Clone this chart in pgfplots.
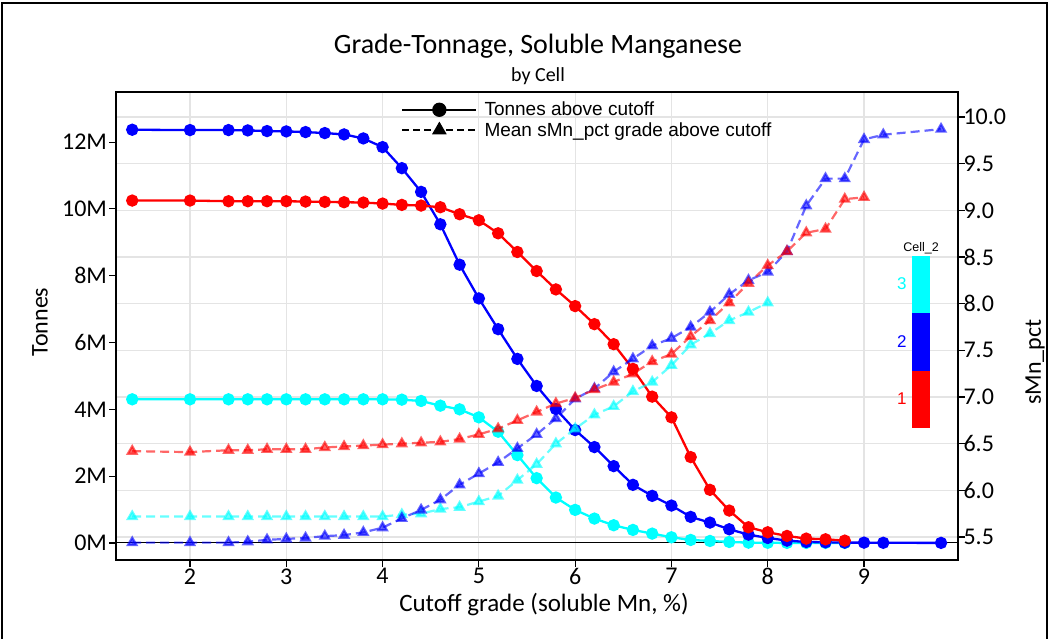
\documentclass[border=0pt]{standalone}
\usepackage{fontspec}
\setmainfont{Carlito}
\newfontfamily\arialfont{Liberation Sans}
\usepackage{pgfplots}
\usepackage{pgfplotstable}
\pgfplotsset{compat=1.18}

\definecolor{cellone}{RGB}{255,0,0}
\definecolor{celltwo}{RGB}{0,0,255}
\definecolor{cellthree}{RGB}{0,255,255}
\definecolor{gridgray}{RGB}{228,228,228}

% cutoff (soluble Mn, %), tonnes above cutoff (millions), mean sMn_pct above cutoff
\pgfplotstableread{
x t g
1.4 10.25 6.42
2.0 10.25 6.41
2.4 10.23 6.43
2.6 10.23 6.43
2.8 10.23 6.44
3.0 10.23 6.44
3.2 10.22 6.44
3.4 10.21 6.46
3.6 10.20 6.47
3.8 10.19 6.48
4.0 10.16 6.49
4.2 10.12 6.50
4.4 10.10 6.51
4.6 10.05 6.52
4.8 9.84 6.55
5.0 9.66 6.60
5.2 9.27 6.66
5.4 8.71 6.75
5.6 8.14 6.84
5.8 7.59 6.93
6.0 7.09 6.99
6.2 6.55 7.08
6.4 5.95 7.16
6.6 5.21 7.25
6.8 4.38 7.38
7.0 3.76 7.46
7.2 2.57 7.65
7.4 1.59 7.82
7.6 0.97 8.01
7.8 0.47 8.22
8.0 0.32 8.41
8.2 0.21 8.56
8.4 0.13 8.76
8.6 0.11 8.80
8.8 0.07 9.12
9.0 nan 9.14
}\cellonetab

\pgfplotstableread{
x t g
1.4 12.37 5.44
2.0 12.36 5.44
2.4 12.36 5.44
2.6 12.35 5.45
2.8 12.33 5.47
3.0 12.32 5.48
3.2 12.30 5.49
3.4 12.27 5.51
3.6 12.23 5.52
3.8 12.11 5.55
4.0 11.85 5.60
4.2 11.22 5.70
4.4 10.51 5.79
4.6 9.54 5.90
4.8 8.33 6.06
5.0 7.32 6.18
5.2 6.40 6.30
5.4 5.51 6.45
5.6 4.70 6.60
5.8 4.01 6.77
6.0 3.38 6.98
6.2 2.87 7.09
6.4 2.30 7.27
6.6 1.74 7.41
6.8 1.41 7.55
7.0 1.12 7.63
7.2 0.78 7.75
7.4 0.61 7.91
7.6 0.41 8.10
7.8 0.25 8.25
8.0 0.15 8.34
8.2 0.07 8.56
8.4 0.03 9.05
8.6 0.02 9.34
8.8 0.01 9.34
9.0 0.01 9.76
9.2 0.005 9.81
9.8 0.002 9.87
}\celltwotab

\pgfplotstableread{
x t g
1.4 4.30 5.72
2.0 4.30 5.72
2.4 4.30 5.72
2.6 4.30 5.72
2.8 4.30 5.72
3.0 4.30 5.72
3.2 4.30 5.72
3.4 4.30 5.72
3.6 4.30 5.72
3.8 4.30 5.72
4.0 4.30 5.72
4.2 4.29 5.74
4.4 4.25 5.75
4.6 4.11 5.80
4.8 4.00 5.82
5.0 3.76 5.88
5.2 3.33 5.94
5.4 2.63 6.11
5.6 1.94 6.28
5.8 1.36 6.50
6.0 0.99 6.66
6.2 0.73 6.81
6.4 0.53 6.90
6.6 0.39 7.06
6.8 0.28 7.16
7.0 0.17 7.34
7.2 0.09 7.56
7.4 0.06 7.68
7.6 0.03 7.82
7.8 0.01 7.91
8.0 0.005 8.01
8.2 0.002 nan
8.4 0.001 nan
8.6 0.001 nan
8.8 0.001 nan
}\cellthreetab

\pgfplotsset{
  commonaxis/.style={
    at={(116pt,79pt)}, anchor=south west,
    scale only axis, width=842pt, height=468pt,
    xmin=1.2315, xmax=9.976,
    axis line style={black, line width=1.3pt},
    tick style={black, line width=1.1pt},
    tick align=outside, major tick length=7pt,
    tick label style={font=\fontsize{24}{26}\selectfont},
  },
  tonnes/.style={line width=2.3pt, mark=*, mark size=5pt, mark options={solid}},
  grade/.style={line width=2.2pt, dash pattern=on 9pt off 5pt, opacity=0.6,
    mark=triangle*, mark size=5pt, mark options={solid}},
}

\begin{document}
\begin{tikzpicture}
\useasboundingbox (0pt,0pt) rectangle (1052pt,639pt);

% outer frame of the figure
\draw[black, line width=1.5pt] (2pt,0pt) -- (2pt,636pt) -- (1047pt,636pt) -- (1047pt,0pt);

% background axis: grid, x ticks and the right-hand grade scale
\begin{axis}[commonaxis,
  ymin=5.254, ymax=10.268,
  xtick={2,3,4,5,6,7,8,9}, xticklabels={2,3,4,5,6,7,8,9},
  ytick={5.5,6,6.5,7,7.5,8,8.5,9,9.5,10},
  yticklabels={5.5,6.0,6.5,7.0,7.5,8.0,8.5,9.0,9.5,10.0},
  xtick pos=bottom, ytick pos=right, yticklabel pos=right,
  xticklabel style={yshift=2pt},
  yticklabel style={xshift=-5pt},
  grid=major, major grid style={gridgray, line width=1.2pt},
]
\end{axis}

% tonnes on the left-hand scale
\begin{axis}[commonaxis,
  ymin=-0.51, ymax=13.5,
  xtick=\empty,
  ytick={0,2,4,6,8,10,12},
  yticklabels={0M,2M,4M,6M,8M,10M,12M},
  ytick pos=left,
  yticklabel style={xshift=1.5pt},
  legend style={draw=none, fill=none, inner sep=0pt,
    at={(axis description cs:0.3385,0.983)}, anchor=north west,
    font=\arialfont\fontsize{19}{21}\selectfont, row sep=1pt},
  legend cell align=left,
  legend image code/.code={
    \draw[mark repeat=2, mark phase=2, #1]
      plot coordinates {(0pt,0pt) (37pt,0pt) (74pt,0pt)};
    \path (79pt,0pt);},
]
\draw[black, line width=1pt] (axis cs:1.2315,0) -- (axis cs:9.976,0);
\addlegendimage{black, line width=2.3pt, mark=*, mark size=6pt, mark options={solid}}
\addlegendentry{Tonnes above cutoff}
\addlegendimage{black, line width=2pt, dash pattern=on 7pt off 4pt, mark=triangle*, mark size=6.5pt, mark options={solid}}
\addlegendentry{Mean sMn\_pct grade above cutoff}
\addplot[tonnes, cellthree, forget plot] table[x=x, y=t] {\cellthreetab};
\addplot[tonnes, celltwo, forget plot] table[x=x, y=t] {\celltwotab};
\addplot[tonnes, cellone, forget plot] table[x=x, y=t] {\cellonetab};
\end{axis}

% mean grade on the right-hand scale
\begin{axis}[commonaxis, hide axis,
  ymin=5.254, ymax=10.268,
]
\addplot[grade, cellthree] table[x=x, y=g] {\cellthreetab};
\addplot[grade, celltwo] table[x=x, y=g] {\celltwotab};
\addplot[grade, cellone] table[x=x, y=g] {\cellonetab};
\end{axis}

% titles and axis labels
\node at (538pt,593pt) {\fontsize{28}{32}\selectfont Grade-Tonnage, Soluble Manganese};
\node at (538pt,563pt) {\fontsize{20}{23}\selectfont by Cell};
\node at (544pt,34pt) {\fontsize{25}{29}\selectfont Cutoff grade (soluble Mn, \%)};
\node[rotate=90] at (40pt,317pt) {\fontsize{24}{28}\selectfont Tonnes};
\node[rotate=90] at (1035pt,277pt) {\fontsize{24}{28}\selectfont sMn\_pct};

% Cell_2 colour key
\fill[cellthree] (912pt,326pt) rectangle (930pt,383pt);
\fill[celltwo] (912pt,268pt) rectangle (930pt,326pt);
\fill[cellone] (912pt,211pt) rectangle (930pt,268pt);
\node[font=\arialfont\fontsize{12.5}{14}\selectfont] at (921pt,391pt) {Cell\_2};
\node[anchor=east, text=cellthree, font=\arialfont\fontsize{17}{19}\selectfont] at (910pt,355pt) {3};
\node[anchor=east, text=celltwo, font=\arialfont\fontsize{17}{19}\selectfont] at (910pt,297pt) {2};
\node[anchor=east, text=cellone, font=\arialfont\fontsize{17}{19}\selectfont] at (910pt,240pt) {1};
\end{tikzpicture}
\end{document}
